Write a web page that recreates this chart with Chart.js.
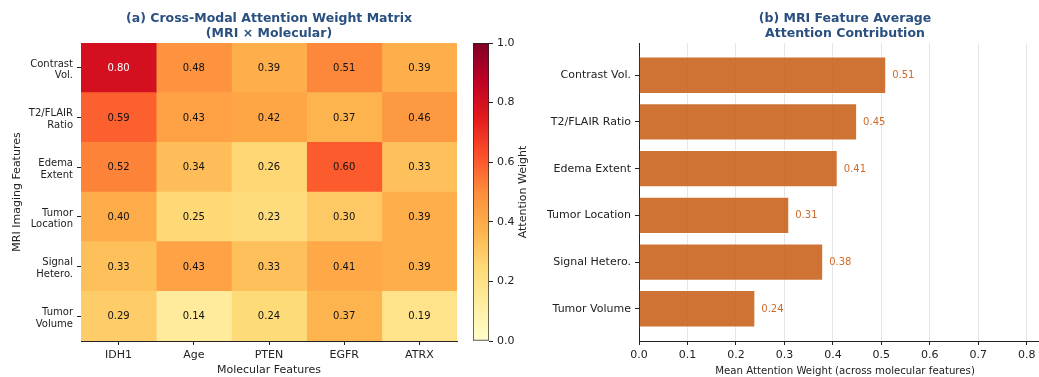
<!DOCTYPE html>
<html>
<head>
<meta charset="utf-8">
<script src="https://cdn.jsdelivr.net/npm/chart.js@4/dist/chart.umd.min.js"></script>
<style>
  html, body { margin: 0; padding: 0; background: #fff; overflow: hidden; width: 1039px; height: 377px; }
  canvas { position: absolute; top: 0; }
  #heat { left: 0; }
  #cbar { left: 460px; }
  #bars { left: 540px; }
</style>
</head>
<body>
<canvas id="heat" width="470" height="377"></canvas>
<canvas id="cbar" width="75" height="377"></canvas>
<canvas id="bars" width="520" height="377"></canvas>
<script>
// ---- data ----
const molecularFeatures = ['IDH1', 'Age', 'PTEN', 'EGFR', 'ATRX'];
const mriFeatures = ['Contrast Vol.', 'T2/FLAIR Ratio', 'Edema Extent', 'Tumor Location', 'Signal Hetero.', 'Tumor Volume'];
const mriFeaturesWrapped = [['Contrast', 'Vol.'], ['T2/FLAIR', 'Ratio'], ['Edema', 'Extent'], ['Tumor', 'Location'], ['Signal', 'Hetero.'], ['Tumor', 'Volume']];

// attention weights, one row per MRI feature (columns follow molecularFeatures)
const attnContrastVol = [0.80, 0.48, 0.39, 0.51, 0.39];
const attnT2Flair     = [0.59, 0.43, 0.42, 0.37, 0.46];
const attnEdema       = [0.52, 0.34, 0.26, 0.60, 0.33];
const attnTumorLoc    = [0.40, 0.25, 0.23, 0.30, 0.39];
const attnSignalHet   = [0.33, 0.43, 0.33, 0.41, 0.39];
const attnTumorVol    = [0.29, 0.14, 0.24, 0.37, 0.19];

// mean attention weight per MRI feature
const meanAttention = [0.51, 0.45, 0.41, 0.31, 0.38, 0.24];

const colorbarTicks = [0.0, 0.2, 0.4, 0.6, 0.8, 1.0];
const meanAxisTicks = [0.0, 0.1, 0.2, 0.3, 0.4, 0.5, 0.6, 0.7, 0.8];

// ---- styling ----
const FONT = 'DejaVu Sans';
const TEXT = '#222222';
const TITLE_BLUE = '#2a5080';
const BAR_COLOR = 'rgba(197, 90, 17, 0.85)';
const BAR_LABEL = '#cf6a28';

Chart.defaults.font.family = FONT;
Chart.defaults.color = TEXT;
Chart.defaults.animation = false;
Chart.defaults.responsive = false;

// YlOrRd colour ramp
const ylOrRdStops = [
  [255, 255, 204], [255, 237, 160], [254, 217, 118], [254, 178, 76], [253, 141, 60],
  [252, 78, 42], [227, 26, 28], [189, 0, 38], [128, 0, 38]
];
function ylOrRd(v) {
  const t = Math.max(0, Math.min(1, v)) * (ylOrRdStops.length - 1);
  const i = Math.min(Math.floor(t), ylOrRdStops.length - 2);
  const f = t - i;
  const a = ylOrRdStops[i], b = ylOrRdStops[i + 1];
  const c = a.map((x, k) => Math.round(x + (b[k] - x) * f));
  return `rgb(${c[0]},${c[1]},${c[2]})`;
}

const titleFont = { family: FONT, size: 12.5, weight: 'bold', lineHeight: 1.18 };

// ---- (a) heatmap ----
const matrix = [attnContrastVol, attnT2Flair, attnEdema, attnTumorLoc, attnSignalHet, attnTumorVol];

const heatDatasets = molecularFeatures.map((name, j) => ({
  label: name,
  data: matrix.map(() => [j, j + 1]),
  cellValues: matrix.map(row => row[j]),
  backgroundColor: matrix.map(row => ylOrRd(row[j])),
  borderWidth: 0,
  barPercentage: 1,
  categoryPercentage: 1,
  grouped: false
}));

const cellText = {
  id: 'cellText',
  afterDatasetsDraw(chart) {
    const ctx = chart.ctx;
    ctx.save();
    ctx.font = `10px "${FONT}"`;
    ctx.textAlign = 'center';
    ctx.textBaseline = 'middle';
    chart.data.datasets.forEach((ds, di) => {
      chart.getDatasetMeta(di).data.forEach((el, ri) => {
        const v = ds.cellValues[ri];
        ctx.fillStyle = v > 0.7 ? '#ffffff' : '#111111';
        ctx.fillText(v.toFixed(2), (el.x + el.base) / 2, el.y + 0.5);
      });
    });
    ctx.restore();
  }
};

new Chart(document.getElementById('heat'), {
  type: 'bar',
  data: { labels: mriFeaturesWrapped, datasets: heatDatasets },
  options: {
    indexAxis: 'y',
    layout: { padding: { top: 0, right: 13, bottom: 0, left: 0 } },
    plugins: {
      legend: { display: false },
      tooltip: { enabled: false },
      title: {
        display: true, fullSize: false,
        text: ['(a) Cross-Modal Attention Weight Matrix', '(MRI × Molecular)'],
        font: titleFont, color: TITLE_BLUE,
        padding: { top: 11.5, bottom: 2 }
      }
    },
    scales: {
      x: {
        type: 'linear', min: 0, max: molecularFeatures.length,
        afterBuildTicks: s => { s.ticks = molecularFeatures.map((_, i) => ({ value: i + 0.5 })); },
        ticks: {
          callback: v => molecularFeatures[Math.round(v - 0.5)],
          font: { size: 11 }, color: TEXT, padding: 4, maxRotation: 0, autoSkip: false
        },
        grid: { drawOnChartArea: false, tickLength: 4, color: TEXT },
        border: { display: true, color: TEXT, width: 1 },
        title: { display: true, text: 'Molecular Features', font: { size: 11, lineHeight: 1.2 }, color: TEXT, padding: { top: 0, bottom: 0 } },
        afterFit: s => { s.height = 36; }
      },
      y: {
        type: 'category',
        offset: true,
        ticks: { font: { size: 10, lineHeight: 1.15 }, color: TEXT, padding: 4, autoSkip: false, labelOffset: 2 },
        grid: { offset: false, drawOnChartArea: false, tickLength: 4, color: TEXT },
        border: { display: true, color: TEXT, width: 1 },
        title: { display: true, text: 'MRI Imaging Features', font: { size: 11, lineHeight: 1.2 }, color: TEXT, padding: { top: 11, bottom: 0 } },
        afterFit: s => { s.width = 81; }
      }
    }
  },
  plugins: [cellText]
});

// ---- colour bar ----
const cbarLabel = {
  id: 'cbarLabel',
  afterDraw(chart) {
    const a = chart.chartArea;
    const ctx = chart.ctx;
    ctx.save();
    ctx.translate(63, (a.top + a.bottom) / 2);
    ctx.rotate(-Math.PI / 2);
    ctx.font = `11px "${FONT}"`;
    ctx.fillStyle = TEXT;
    ctx.textAlign = 'center';
    ctx.textBaseline = 'middle';
    ctx.fillText('Attention Weight', 0, 0);
    ctx.restore();
  }
};

new Chart(document.getElementById('cbar'), {
  type: 'bar',
  data: {
    labels: [''],
    datasets: [{
      data: [[colorbarTicks[0], colorbarTicks[colorbarTicks.length - 1]]],
      backgroundColor: c => {
        const a = c.chart.chartArea;
        if (!a) return ylOrRd(0.5);
        const g = c.chart.ctx.createLinearGradient(0, a.bottom, 0, a.top);
        for (let k = 0; k <= 40; k++) g.addColorStop(k / 40, ylOrRd(k / 40));
        return g;
      },
      borderColor: TEXT, borderWidth: 1, borderSkipped: false,
      barPercentage: 1, categoryPercentage: 1
    }]
  },
  options: {
    layout: { padding: { left: 13, top: 43, bottom: 36, right: 0 } },
    plugins: { legend: { display: false }, tooltip: { enabled: false } },
    scales: {
      x: { display: false },
      y: {
        position: 'right', min: 0, max: 1,
        afterBuildTicks: s => { s.ticks = colorbarTicks.map(v => ({ value: v })); },
        ticks: { callback: v => v.toFixed(1), font: { size: 11 }, color: TEXT, padding: 4 },
        grid: { drawOnChartArea: false, tickLength: 4, color: TEXT },
        border: { display: false },
        afterFit: s => { s.width = 46; }
      }
    }
  },
  plugins: [cbarLabel]
});

// ---- (b) mean attention bars ----
const barValueLabels = {
  id: 'barValueLabels',
  afterDatasetsDraw(chart) {
    const ctx = chart.ctx;
    const ds = chart.data.datasets[0];
    ctx.save();
    ctx.font = `10px "${FONT}"`;
    ctx.fillStyle = BAR_LABEL;
    ctx.textAlign = 'left';
    ctx.textBaseline = 'middle';
    chart.getDatasetMeta(0).data.forEach((el, i) => {
      ctx.fillText(ds.data[i].x.toFixed(2), el.x + 6, el.y + 0.5);
    });
    ctx.restore();
  }
};

new Chart(document.getElementById('bars'), {
  type: 'bar',
  data: {
    datasets: [{
      data: meanAttention.map((v, i) => ({ x: v, y: i })),
      backgroundColor: BAR_COLOR,
      borderColor: 'rgba(255,255,255,0.55)', borderWidth: 1,
      barPercentage: 0.8, categoryPercentage: 1
    }]
  },
  options: {
    indexAxis: 'y',
    layout: { padding: { top: 0, right: 9, bottom: 0, left: 0 } },
    plugins: {
      legend: { display: false },
      tooltip: { enabled: false },
      title: {
        display: true, fullSize: false,
        text: ['(b) MRI Feature Average', 'Attention Contribution'],
        font: titleFont, color: TITLE_BLUE,
        padding: { top: 11.5, bottom: 2 }
      }
    },
    scales: {
      x: {
        type: 'linear', min: 0, max: 0.85,
        afterBuildTicks: s => { s.ticks = meanAxisTicks.map(v => ({ value: v })); },
        ticks: { callback: v => v.toFixed(1), font: { size: 11 }, color: TEXT, padding: 4 },
        grid: { color: '#e6e6e6', lineWidth: 1, tickColor: TEXT, tickLength: 4 },
        border: { display: true, color: TEXT, width: 1 },
        title: { display: true, text: 'Mean Attention Weight (across molecular features)', font: { size: 10.2, lineHeight: 1.2 }, color: TEXT, padding: { top: 0, bottom: 0 } },
        afterFit: s => { s.height = 36; }
      },
      y: {
        type: 'linear', min: -0.69, max: 5.69, reverse: true,
        offset: false,
        afterBuildTicks: s => { s.ticks = mriFeatures.map((_, i) => ({ value: i })); },
        ticks: { callback: v => mriFeatures[Math.round(v)], font: { size: 11 }, color: TEXT, padding: 4, autoSkip: false },
        grid: { offset: false, drawOnChartArea: false, tickLength: 4, color: TEXT },
        border: { display: true, color: TEXT, width: 1 },
        afterFit: s => { s.width = 99; }
      }
    }
  },
  plugins: [barValueLabels]
});
</script>
</body>
</html>
